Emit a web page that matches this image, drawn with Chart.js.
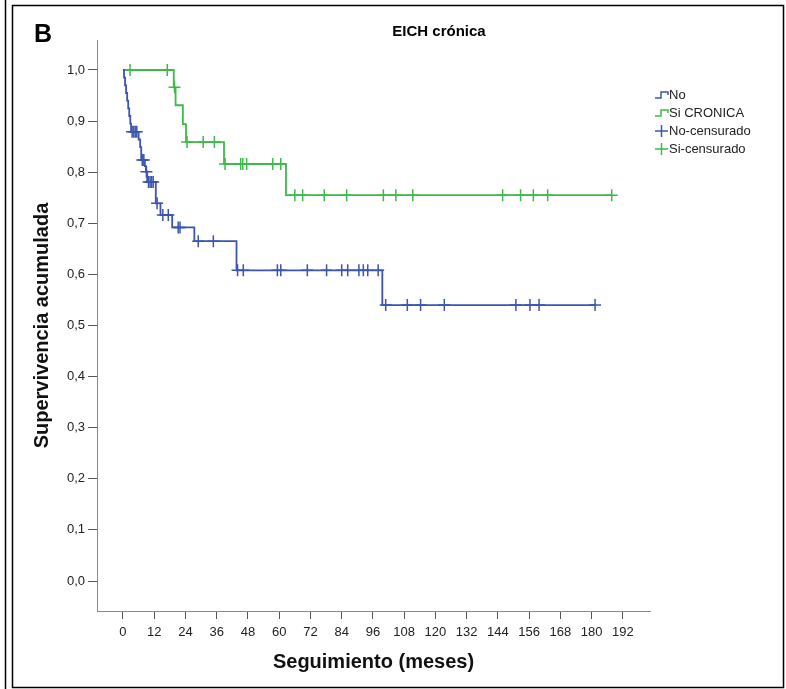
<!DOCTYPE html>
<html>
<head>
<meta charset="utf-8">
<title>EICH crónica</title>
<script src="https://cdn.jsdelivr.net/npm/chart.js@4.4.1/dist/chart.umd.min.js"></script>
<style>
    html, body { margin: 0; padding: 0; background: #fff; }
    #wrap { width: 786px; height: 689px; position: relative; }
</style>
</head>
<body>
<div id="wrap"><canvas id="kmChart" width="786" height="689"></canvas></div>
<script>
// Kaplan-Meier: tiempos de evento (meses) y supervivencia tras cada paso
const noTimes = [0, 0.4, 0.8, 1.2, 1.6, 2.0, 2.4, 2.8, 3.1, 6.0, 6.6, 7.0, 8.4, 8.8, 9.3, 12.6, 14.4, 18.9, 27.4, 43.6, 99.6, 181.3];
const noSurv = [1.0, 0.985, 0.970, 0.955, 0.940, 0.925, 0.910, 0.895, 0.879, 0.864, 0.849, 0.824, 0.812, 0.801, 0.781, 0.739, 0.716, 0.692, 0.665, 0.608, 0.540, 0.540];
const noCensored = [3.5, 4.1, 4.7, 5.3, 7.4, 8.0, 9.0, 9.8, 10.4, 11.0, 11.6, 13.1, 15.3, 17.4, 21.2, 21.9, 28.9, 34.7,
    44.0, 46.2, 59.3, 60.6, 70.8, 78.2, 84.0, 86.3, 90.6, 92.3, 94.0, 98.0,
    100.9, 109.2, 114.3, 123.4, 150.9, 156.3, 159.8, 181.3];

const siTimes = [0, 19.5, 20.2, 23.0, 24.2, 38.8, 62.6, 187.7];
const siSurv = [1.0, 0.966, 0.931, 0.894, 0.859, 0.816, 0.755, 0.755];
const siCensored = [2.7, 17.0, 19.8, 24.6, 30.8, 35.1, 39.2, 45.2, 46.0, 47.5, 57.5, 60.6,
    66.0, 69.0, 77.3, 85.9, 100.0, 104.8, 111.3, 145.8, 152.7, 157.6, 163.1, 187.7];

const xTicks = [0, 12, 24, 36, 48, 60, 72, 84, 96, 108, 120, 132, 144, 156, 168, 180, 192];
const yTicks = [0, 0.1, 0.2, 0.3, 0.4, 0.5, 0.6, 0.7, 0.8, 0.9, 1.0];

const blue = '#3b55b0';
const green = '#3dbb48';
const fontFamily = '"Liberation Sans", Arial, sans-serif';

// valor de la curva escalonada en el tiempo t
function survAt(times, surv, t) {
    let v = surv[0];
    for (let i = 0; i < times.length; i++) {
        if (times[i] <= t) v = surv[i];
    }
    return v;
}

function curve(times, surv) {
    return times.map((t, i) => ({ x: t, y: surv[i] }));
}

function censorPoints(times, surv, cens) {
    return cens.map(t => ({ x: t, y: survAt(times, surv, t) }));
}

// marco, letra del panel, título y leyenda al estilo SPSS
const decoPlugin = {
    id: 'deco',
    beforeDraw(chart) {
        const ctx = chart.ctx;
        ctx.save();
        ctx.fillStyle = '#fff';
        ctx.fillRect(0, 0, chart.width, chart.height);
        ctx.restore();
    },
    afterDraw(chart) {
        const ctx = chart.ctx;
        ctx.save();
        ctx.strokeStyle = '#000';
        ctx.lineWidth = 1.5;
        ctx.beginPath();
        ctx.moveTo(5.5, 0);
        ctx.lineTo(5.5, chart.height);
        ctx.stroke();
        ctx.strokeRect(12.5, 5.5, 771, 682);

        ctx.fillStyle = '#000';
        ctx.textBaseline = 'middle';
        ctx.font = 'bold 25px ' + fontFamily;
        ctx.textAlign = 'left';
        ctx.fillText('B', 34, 35);

        ctx.font = 'bold 15px ' + fontFamily;
        ctx.textAlign = 'center';
        ctx.fillText('EICH crónica', 439, 32);

        // leyenda
        const items = chart.data.datasets;
        const rows = [95, 113, 131, 149];
        ctx.font = '13px ' + fontFamily;
        ctx.textAlign = 'left';
        items.forEach((ds, i) => {
            const y = rows[i];
            ctx.strokeStyle = ds.borderColor;
            ctx.lineWidth = 1.5;
            ctx.beginPath();
            if (ds.showLine === false) {
                ctx.moveTo(655, y);
                ctx.lineTo(668, y);
                ctx.moveTo(661.5, y - 6);
                ctx.lineTo(661.5, y + 6);
            } else {
                ctx.moveTo(655, y + 3);
                ctx.lineTo(661, y + 3);
                ctx.lineTo(661, y - 3);
                ctx.lineTo(668, y - 3);
                ctx.lineTo(668, y);
            }
            ctx.stroke();
            ctx.fillStyle = '#222';
            ctx.fillText(ds.label, 669, y);
        });
        ctx.restore();
    }
};

const ctx = document.getElementById('kmChart').getContext('2d');
new Chart(ctx, {
    type: 'line',
    data: {
        datasets: [
            {
                label: 'No',
                data: curve(noTimes, noSurv),
                borderColor: blue,
                borderWidth: 1.8,
                stepped: true,
                pointRadius: 0,
                fill: false
            },
            {
                label: 'Si CRONICA',
                data: curve(siTimes, siSurv),
                borderColor: green,
                borderWidth: 1.8,
                stepped: true,
                pointRadius: 0,
                fill: false
            },
            {
                label: 'No-censurado',
                data: censorPoints(noTimes, noSurv, noCensored),
                borderColor: blue,
                showLine: false,
                pointStyle: 'cross',
                pointRadius: 6,
                pointBorderWidth: 1.5
            },
            {
                label: 'Si-censurado',
                data: censorPoints(siTimes, siSurv, siCensored),
                borderColor: green,
                showLine: false,
                pointStyle: 'cross',
                pointRadius: 6,
                pointBorderWidth: 1.5
            }
        ]
    },
    options: {
        responsive: false,
        animation: false,
        layout: {
            padding: { top: 40, right: 136, left: 0, bottom: 0 }
        },
        plugins: {
            legend: { display: false },
            title: { display: false },
            tooltip: { enabled: false }
        },
        scales: {
            x: {
                type: 'linear',
                min: -9.98,
                max: 202.4,
                afterBuildTicks: scale => { scale.ticks = xTicks.map(v => ({ value: v })); },
                afterFit: scale => { scale.height = 78; },
                border: { display: true, color: '#8a8a8a', width: 1 },
                grid: { drawOnChartArea: false, drawTicks: true, tickLength: 8, color: '#555' },
                ticks: {
                    color: '#222',
                    padding: 6,
                    maxRotation: 0,
                    autoSkip: false,
                    font: { family: fontFamily, size: 13 }
                },
                title: {
                    display: true,
                    text: 'Seguimiento (meses)',
                    color: '#111',
                    font: { family: fontFamily, size: 20, weight: 'bold' },
                    padding: { top: 0, bottom: 15 }
                }
            },
            y: {
                type: 'linear',
                min: -0.0587,
                max: 1.0587,
                afterBuildTicks: scale => { scale.ticks = yTicks.map(v => ({ value: v })); },
                afterFit: scale => { scale.width = 97; },
                border: { display: true, color: '#8a8a8a', width: 1 },
                grid: { drawOnChartArea: false, drawTicks: true, tickLength: 9, color: '#555' },
                ticks: {
                    color: '#222',
                    padding: 3,
                    font: { family: fontFamily, size: 13 },
                    callback: v => v.toFixed(1).replace('.', ',')
                },
                title: {
                    display: true,
                    text: 'Supervivencia acumulada',
                    color: '#111',
                    font: { family: fontFamily, size: 20, weight: 'bold' },
                    padding: { top: 30, bottom: 0 }
                }
            }
        }
    },
    plugins: [decoPlugin]
});
</script>
</body>
</html>
